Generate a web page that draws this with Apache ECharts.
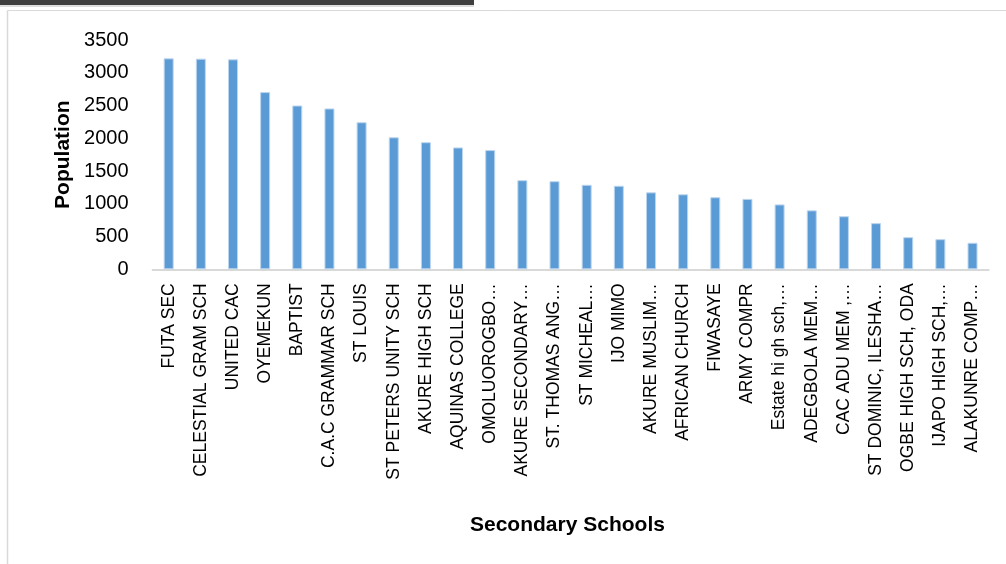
<!DOCTYPE html>
<html>
<head>
<meta charset="utf-8">
<script src="https://cdn.jsdelivr.net/npm/echarts@6/dist/echarts.min.js"></script>
<style>
html,body{margin:0;padding:0;background:#fff;}
#chart{width:1006px;height:564px;}
</style>
</head>
<body>
<div id="chart"></div>
<script>
const categories = [
  "FUTA SEC", "CELESTIAL GRAM SCH", "UNITED CAC", "OYEMEKUN", "BAPTIST",
  "C.A.C GRAMMAR SCH", "ST LOUIS", "ST PETERS UNITY SCH", "AKURE HIGH SCH",
  "AQUINAS COLLEGE", "OMOLUOROGBO…", "AKURE SECONDARY…", "ST. THOMAS ANG…",
  "ST MICHEAL…", "IJO MIMO", "AKURE MUSLIM…", "AFRICAN CHURCH", "FIWASAYE",
  "ARMY COMPR", "Estate hi gh sch,…", "ADEGBOLA MEM…", "CAC ADU MEM ,…",
  "ST DOMINIC, ILESHA…", "OGBE HIGH SCH, ODA", "IJAPO HIGH SCH,…", "ALAKUNRE COMP…"
];
const population = [
  3220, 3215, 3205, 2705, 2500, 2455, 2245, 2015, 1940, 1860, 1820, 1360, 1345,
  1290, 1275, 1175, 1145, 1100, 1075, 990, 900, 810, 705, 490, 460, 405
];
const yTicks = { min: 0, max: 3500, interval: 500 };
const yTitle = "Population";
const xTitle = "Secondary Schools";

const chart = echarts.init(document.getElementById('chart'), null, { renderer: 'canvas' });
chart.setOption({
  animation: false,
  backgroundColor: '#ffffff',
  grid: { left: 152.6, right: 17.4, top: 40, bottom: 294.7, containLabel: false },
  graphic: [
    { type: 'rect', shape: { x: 0, y: 0, width: 474, height: 5 }, style: { fill: '#3f3f3f' } },
    { type: 'rect', shape: { x: 0, y: 5, width: 474, height: 2 }, style: { fill: '#dedede' } },
    { type: 'line', shape: { x1: 7.5, y1: 10.5, x2: 1006, y2: 10.5 }, style: { stroke: '#d9d9d9', lineWidth: 1 } },
    { type: 'line', shape: { x1: 7.5, y1: 10.5, x2: 7.5, y2: 564 }, style: { stroke: '#d9d9d9', lineWidth: 1.5 } },
    { type: 'text', left: 570 - 100, top: 515, style: { text: xTitle, width: 200, align: 'center', font: 'bold 21px "Liberation Sans", Arial, sans-serif', fill: '#000' } }
  ],
  xAxis: {
    type: 'category',
    data: categories,
    axisLine: { show: true, lineStyle: { color: '#d9d9d9', width: 2 } },
    axisTick: { show: false },
    axisLabel: {
      interval: 0, rotate: 90, margin: 14,
      fontFamily: '"Liberation Sans", Arial, sans-serif', fontSize: 17.5, color: '#000'
    }
  },
  yAxis: {
    type: 'value',
    min: yTicks.min, max: yTicks.max, interval: yTicks.interval,
    name: yTitle,
    nameLocation: 'middle',
    nameGap: 79,
    nameRotate: 90,
    nameTextStyle: { fontFamily: '"Liberation Sans", Arial, sans-serif', fontSize: 21, fontWeight: 'bold', color: '#000' },
    axisLine: { show: false },
    axisTick: { show: false },
    splitLine: { show: false },
    axisLabel: {
      margin: 24, fontFamily: '"Liberation Sans", Arial, sans-serif', fontSize: 20, color: '#000',
      formatter: function (v) { return String(v); }
    }
  },
  series: [{
    type: 'bar',
    data: population,
    barWidth: 10,
    itemStyle: { color: '#5b9bd5', borderColor: '#bcd5ee', borderWidth: 1 }
  }]
});
</script>
</body>
</html>
